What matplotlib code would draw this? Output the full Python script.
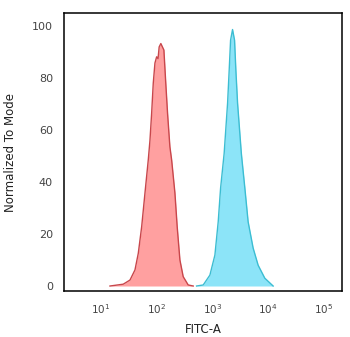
import numpy as np
import matplotlib
matplotlib.use("Agg")
import matplotlib.pyplot as plt
from matplotlib.ticker import NullLocator

# Control histogram (red): FITC-A intensity vs normalized count
red_x = [14.5, 25.1, 33.2, 40.8, 46.8, 53.8, 61.7, 70.7, 75.8, 81.3, 86.9,
         93.2, 100, 106, 111, 119, 135, 145, 157, 173, 186, 213, 234, 262,
         300, 369, 454]
red_y = [0, 0.7, 2.3, 6.2, 12.6, 22.8, 35.8, 48.5, 56, 66.5, 78,
         85.8, 88.2, 87.5, 92, 93.3, 90.8, 79, 66.5, 53.6, 48.5, 35.8, 22.8, 10,
         3.6, 0.4, 0]

# Stained sample histogram (cyan)
cyan_x = [522, 687, 906, 1114, 1277, 1410, 1633, 1883, 2011, 2131,
          2312, 2512, 2653, 2845, 3327, 3846, 4406, 5420, 6667, 8790,
          12400]
cyan_y = [0, 0.4, 4.2, 11.9, 24.7, 37.7, 51, 70.4, 83, 94.6,
          98.7, 94.6, 83, 70.4, 51, 37.7, 24.7, 14.6, 8, 3,
          0]

xticks = [1e1, 1e2, 1e3, 1e4, 1e5]
yticks = [0, 20, 40, 60, 80, 100]

fig = plt.figure(figsize=(3.5, 3.37), dpi=100)
ax = fig.add_axes([0.183, 0.1365, 0.794, 0.8245])

ax.fill_between(red_x, red_y, 0, color='#ffa0a0', lw=0)
ax.plot(red_x, red_y, color='#c8464b', lw=1.0, solid_joinstyle='round')
ax.fill_between(cyan_x, cyan_y, 0, color='#8ce4f8', lw=0)
ax.plot(cyan_x, cyan_y, color='#3cbdd2', lw=1.0, solid_joinstyle='round')

ax.set_xscale('log')
ax.set_xlim(10**0.336, 10**5.33)
ax.set_ylim(-1.92, 105)
ax.set_xticks(xticks)
ax.xaxis.set_minor_locator(NullLocator())
ax.set_yticks(yticks)

ax.tick_params(length=0, labelcolor='#444444')
ax.tick_params(axis='y', pad=8, labelsize=8)
ax.tick_params(axis='x', pad=8, labelsize=7.5)
for s in ax.spines.values():
    s.set_linewidth(1.1)
    s.set_color('black')

ax.set_xlabel('FITC-A', fontsize=8.5, color='#222222', labelpad=5)
ax.set_ylabel('Normalized To Mode', fontsize=8.5, color='#222222', labelpad=11)

fig.savefig('out.png', dpi=100)
